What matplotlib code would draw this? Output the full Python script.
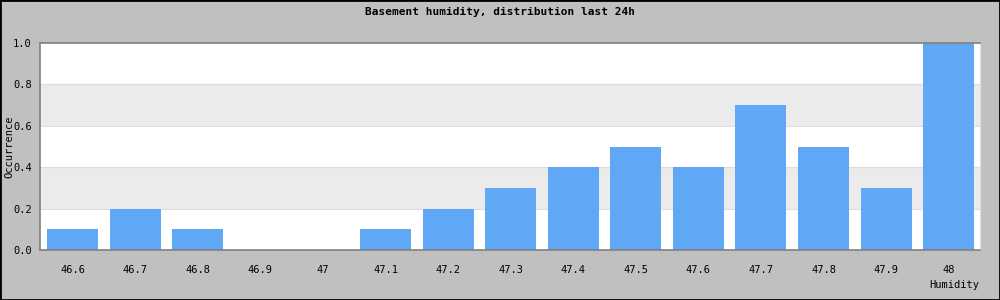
import numpy as np
import matplotlib.pyplot as plt
from matplotlib.patches import Rectangle

humidity = ['46.6', '46.7', '46.8', '46.9', '47', '47.1', '47.2', '47.3',
            '47.4', '47.5', '47.6', '47.7', '47.8', '47.9', '48']
occurrence = [0.1, 0.2, 0.1, 0.0, 0.0, 0.1, 0.2, 0.3,
              0.4, 0.5, 0.4, 0.7, 0.5, 0.3, 1.0]
yticks = [0.0, 0.2, 0.4, 0.6, 0.8, 1.0]

plt.rcParams['font.family'] = 'DejaVu Sans Mono'

fig = plt.figure(figsize=(10, 3), dpi=100, facecolor='#c0c0c0')
ax = fig.add_axes([0.04, 1 - 250/300, 0.94, 207/300])
ax.set_facecolor('white')

# alternating bands
for i in range(len(yticks) - 1):
    if i % 2 == 1:
        ax.axhspan(yticks[i], yticks[i + 1], color='#ebebeb', zorder=0, lw=0)
for y in yticks[1:-1]:
    ax.axhline(y, color='#dddddd', lw=0.8, zorder=0.5)

x = np.arange(len(humidity))
ax.bar(x, occurrence, width=0.815, color='#60a8f5', zorder=2)

ax.set_xlim(-0.52, len(humidity) - 0.5)
ax.set_ylim(0, 1.0)
ax.set_xticks(x)
ax.set_xticklabels(humidity, fontsize=7.5)
ax.set_yticks(yticks)
ax.set_yticklabels(['%.1f' % v for v in yticks], fontsize=7.5)
ax.tick_params(length=0)
ax.tick_params(axis='y', pad=6)
ax.tick_params(axis='x', pad=11)

for s in ['left', 'bottom', 'top']:
    ax.spines[s].set_color('#808080')
    ax.spines[s].set_linewidth(1.2)
ax.spines['right'].set_color('#e0e0e0')

fig.text(0.5, 1 - 12/300, 'Basement humidity, distribution last 24h',
         ha='center', va='center', fontsize=8, fontweight='bold')
fig.text(0.009, 1 - 147/300, 'Occurrence', rotation=90,
         ha='center', va='center', fontsize=7.5)
fig.text(0.979, 1 - 285/300, 'Humidity', ha='right', va='center', fontsize=7.5)

fig.patches.append(Rectangle((0, 0), 1, 1, transform=fig.transFigure,
                             fill=False, edgecolor='black', lw=2))

fig.savefig('out.png', dpi=100, facecolor=fig.get_facecolor())
